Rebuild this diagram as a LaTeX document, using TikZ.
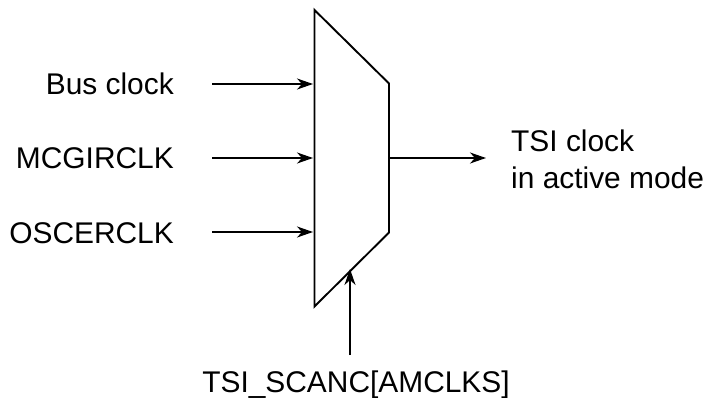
\documentclass[tikz,border=0pt]{standalone}
\usepackage{fontspec}
\setmainfont{Liberation Sans}
\usetikzlibrary{arrows.meta}
\begin{document}
\begin{tikzpicture}[x=1pt,y=-1pt,
 lbl/.style={inner sep=0pt,font=\fontsize{29.9}{36}\selectfont},
 conn/.style={line width=1.9pt,-{Stealth[length=16pt,width=11pt,inset=5pt]}},
 mux/.style={line width=1.9pt,line join=miter}]
\useasboundingbox (0,0) rectangle (706,398);
\draw[mux] (314.5,10) -- (389,83.5) -- (389,232.5) -- (314.5,306.5) -- cycle;
\coordinate (a1) at (212,84); \coordinate (b1) at (313,84);
\coordinate (a2) at (212,158); \coordinate (b2) at (313,158);
\coordinate (a3) at (212,232); \coordinate (b3) at (313,232);
\coordinate (o1) at (389,158); \coordinate (o2) at (486,158);
\coordinate (s1) at (350,355); \coordinate (s2) at (350,269);
\draw[conn] (a1) -- (b1);
\draw[conn] (a2) -- (b2);
\draw[conn] (a3) -- (b3);
\draw[conn] (o1) -- (o2);
\draw[conn] (s1) -- (s2);
\node[lbl,anchor=base east] (t1) at (174,95) {Bus clock};
\node[lbl,anchor=base east] (t2) at (174,169) {MCGIRCLK};
\node[lbl,anchor=base east] (t3) at (174,243) {OSCERCLK};
\node[lbl,anchor=base west] (t4) at (511,151.5) {TSI clock};
\node[lbl,anchor=base west] (t5) at (511,188) {in active mode};
\node[lbl,anchor=base] (t6) at (356,392.5) {TSI\_SCANC[AMCLKS]};
\end{tikzpicture}
\end{document}
